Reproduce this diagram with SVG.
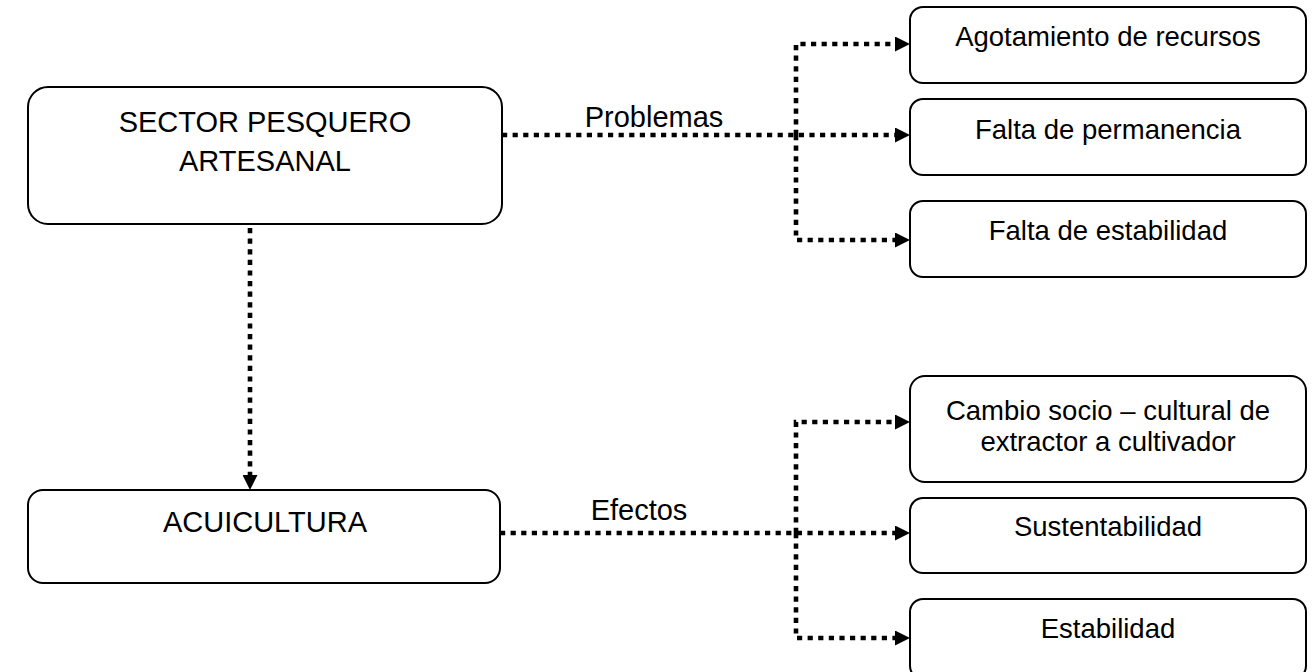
<svg xmlns="http://www.w3.org/2000/svg" width="1312" height="672" viewBox="0 0 1312 672">
<style>
.box{fill:#fff;stroke:#000;stroke-width:2}
.t{font-family:"Liberation Sans",Arial,sans-serif;font-size:27.5px;fill:#000;text-anchor:middle}
.L{font-size:29px}
.c{fill:none;stroke:#000;stroke-width:4.6;stroke-dasharray:5.2 5.4}
</style>
<defs>
<marker id="ah" viewBox="0 0 15 15" markerWidth="15" markerHeight="15" refX="0" refY="7.5" orient="auto" markerUnits="userSpaceOnUse">
<path d="M0,0 L15,7.5 L0,15 z" fill="#000"/>
</marker>
</defs>
<rect width="1312" height="672" fill="#fff"/>
<g id="connectors">
<path class="c" d="M250,228 V475" marker-end="url(#ah)"/>
<path class="c" d="M502,135 H895" marker-end="url(#ah)"/>
<path class="c" d="M796,135 V44 H895" marker-end="url(#ah)"/>
<path class="c" d="M796,135 V240 H895" marker-end="url(#ah)"/>
<path class="c" d="M500,533 H895" marker-end="url(#ah)"/>
<path class="c" d="M796,533 V422 H895" marker-end="url(#ah)"/>
<path class="c" d="M796,533 V638 H895" marker-end="url(#ah)"/>
<text class="t L" x="654" y="127">Problemas</text>
<text class="t L" x="639" y="520">Efectos</text>
</g>
<g id="sector">
<rect class="box" x="28" y="87" width="474" height="137" rx="20"/>
<text class="t L" x="265" y="132">SECTOR PESQUERO</text>
<text class="t L" x="265" y="171">ARTESANAL</text>
</g>
<g id="acuicultura">
<rect class="box" x="28" y="490" width="472" height="93" rx="15"/>
<text class="t L" x="265" y="532">ACUICULTURA</text>
</g>
<g id="agotamiento">
<rect class="box" x="910" y="7" width="396" height="76" rx="13"/>
<text class="t" x="1108" y="46">Agotamiento de recursos</text>
</g>
<g id="permanencia">
<rect class="box" x="910" y="99" width="396" height="76" rx="13"/>
<text class="t" x="1108" y="139">Falta de permanencia</text>
</g>
<g id="estabilidad-falta">
<rect class="box" x="910" y="201" width="396" height="76" rx="13"/>
<text class="t" x="1108" y="240">Falta de estabilidad</text>
</g>
<g id="cambio">
<rect class="box" x="910" y="376" width="396" height="106" rx="15"/>
<text class="t" x="1108" y="420">Cambio socio – cultural de</text>
<text class="t" x="1108" y="451">extractor a cultivador</text>
</g>
<g id="sustentabilidad">
<rect class="box" x="910" y="498" width="396" height="75" rx="13"/>
<text class="t" x="1108" y="536">Sustentabilidad</text>
</g>
<g id="estabilidad">
<rect class="box" x="910" y="599" width="396" height="80" rx="13"/>
<text class="t" x="1108" y="638">Estabilidad</text>
</g>
</svg>
